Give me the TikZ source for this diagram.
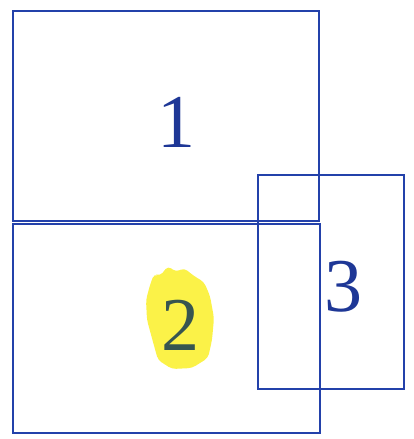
\documentclass[tikz,border=0pt]{standalone}
\usepackage{fontspec}
\setmainfont{Liberation Serif}
\definecolor{penblue}{RGB}{35,65,170}
\definecolor{digitblue}{RGB}{30,55,150}
\definecolor{digitgreen}{RGB}{55,85,80}
\definecolor{hilite}{RGB}{250,240,40}
\tikzset{
  box/.style={draw=penblue, line width=2.6pt},
  digit/.style={font=\fontsize{76}{76}\selectfont, text=digitblue, inner sep=0pt}
}
\begin{document}
\begin{tikzpicture}[x=1pt,y=-1pt]
\useasboundingbox (0,0) rectangle (414,439);
% highlight
\fill[hilite, opacity=0.85, rounded corners=4pt]
  (150,285) -- (154,274) -- (160,276) -- (168,266) -- (176,272) -- (184,268) -- (194,276) -- (204,282)
  -- (210,296) -- (214,318) -- (212,340) -- (208,358) -- (192,368) -- (172,369)
  -- (158,360) -- (153,342) -- (147,320) -- (146,300) -- cycle;
% boxes
\node[box, minimum width=306pt, minimum height=210pt, inner sep=0pt] (b1) at (166,116) {};
\node[box, minimum width=307pt, minimum height=209pt, inner sep=0pt] (b2) at (166.5,328.5) {};
\node[box, minimum width=146pt, minimum height=214pt, inner sep=0pt] (b3) at (331,282) {};
% labels
\node[digit] (l1) at (176,122) {1};
\node[digit, text=digitgreen] (l2) at (180,325) {2};
\node[digit] (l3) at (343,287) {3};
\end{tikzpicture}
\end{document}
